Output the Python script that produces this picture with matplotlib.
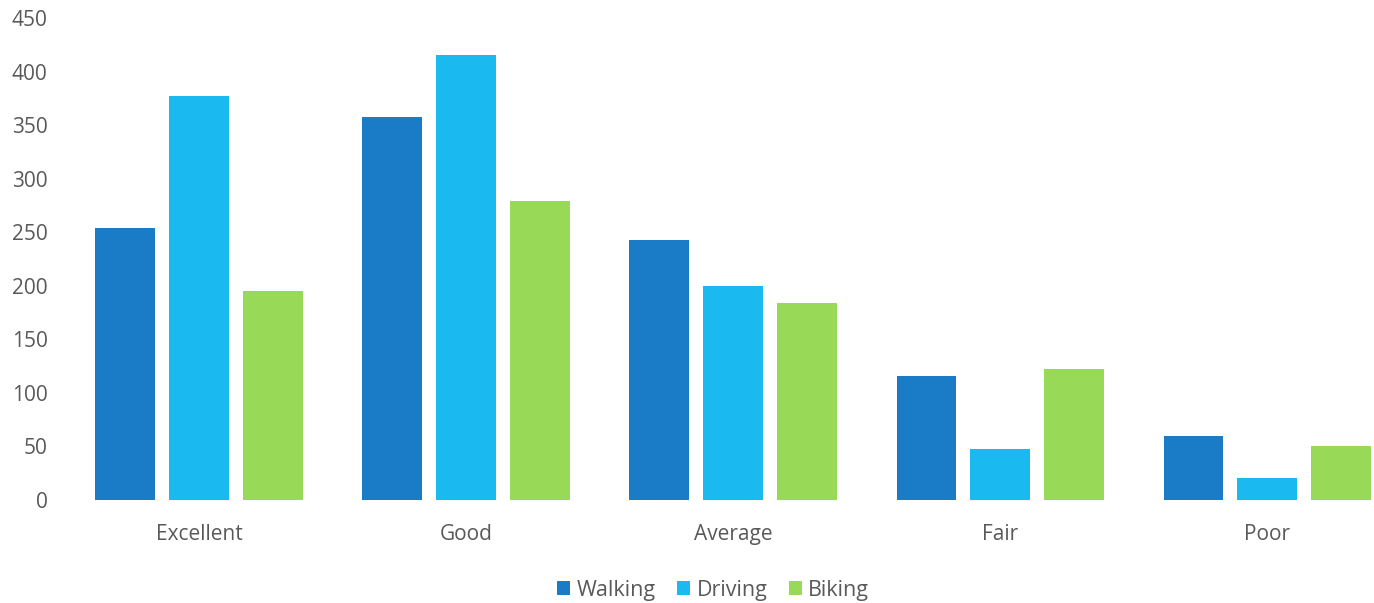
import matplotlib.pyplot as plt
import numpy as np

categorias = ["Excellent", "Good", "Average", "Fair", "Poor"]
walking = [254, 358, 243, 116, 60]
driving = [377, 415, 200, 48, 21]
biking = [195, 279, 184, 122, 50]

series = ["Walking", "Driving", "Biking"]
colores = ["#1a7cc7", "#1ab9f0", "#98d957"]
gris = "#595959"

plt.rcParams['font.family'] = ['Open Sans', 'DejaVu Sans']

fig = plt.figure(figsize=(13.74, 6.03), dpi=100)
ax = fig.add_axes([65.5 / 1374, 103 / 603, (1374 - 65.5) / 1374, 482 / 603])

x = np.arange(len(categorias))
ancho = 0.224
paso = 0.276
for i, (nombre, valores) in enumerate(zip(series, [walking, driving, biking])):
    ax.bar(x + (i - 1) * paso, valores, ancho, color=colores[i], label=nombre)

ax.set_xlim(-0.5, 4.4)
ax.set_ylim(0, 450)
ax.set_yticks(range(0, 451, 50))
ax.set_xticks(x)
ax.set_xticklabels(categorias)

for lado in ["top", "right", "left", "bottom"]:
    ax.spines[lado].set_visible(False)
ax.tick_params(axis="y", length=0, pad=13, labelsize=15, labelcolor=gris)
ax.tick_params(axis="x", length=0, pad=17, labelsize=15, labelcolor=gris)

ax.legend(loc="upper center", bbox_to_anchor=(0.495, -0.125), ncol=3, frameon=False,
          fontsize=15.5, labelcolor=gris, handlelength=0.6, handleheight=0.6,
          handletextpad=0.3, columnspacing=1.0)

fig.savefig("out.png", dpi=100, facecolor="white")
